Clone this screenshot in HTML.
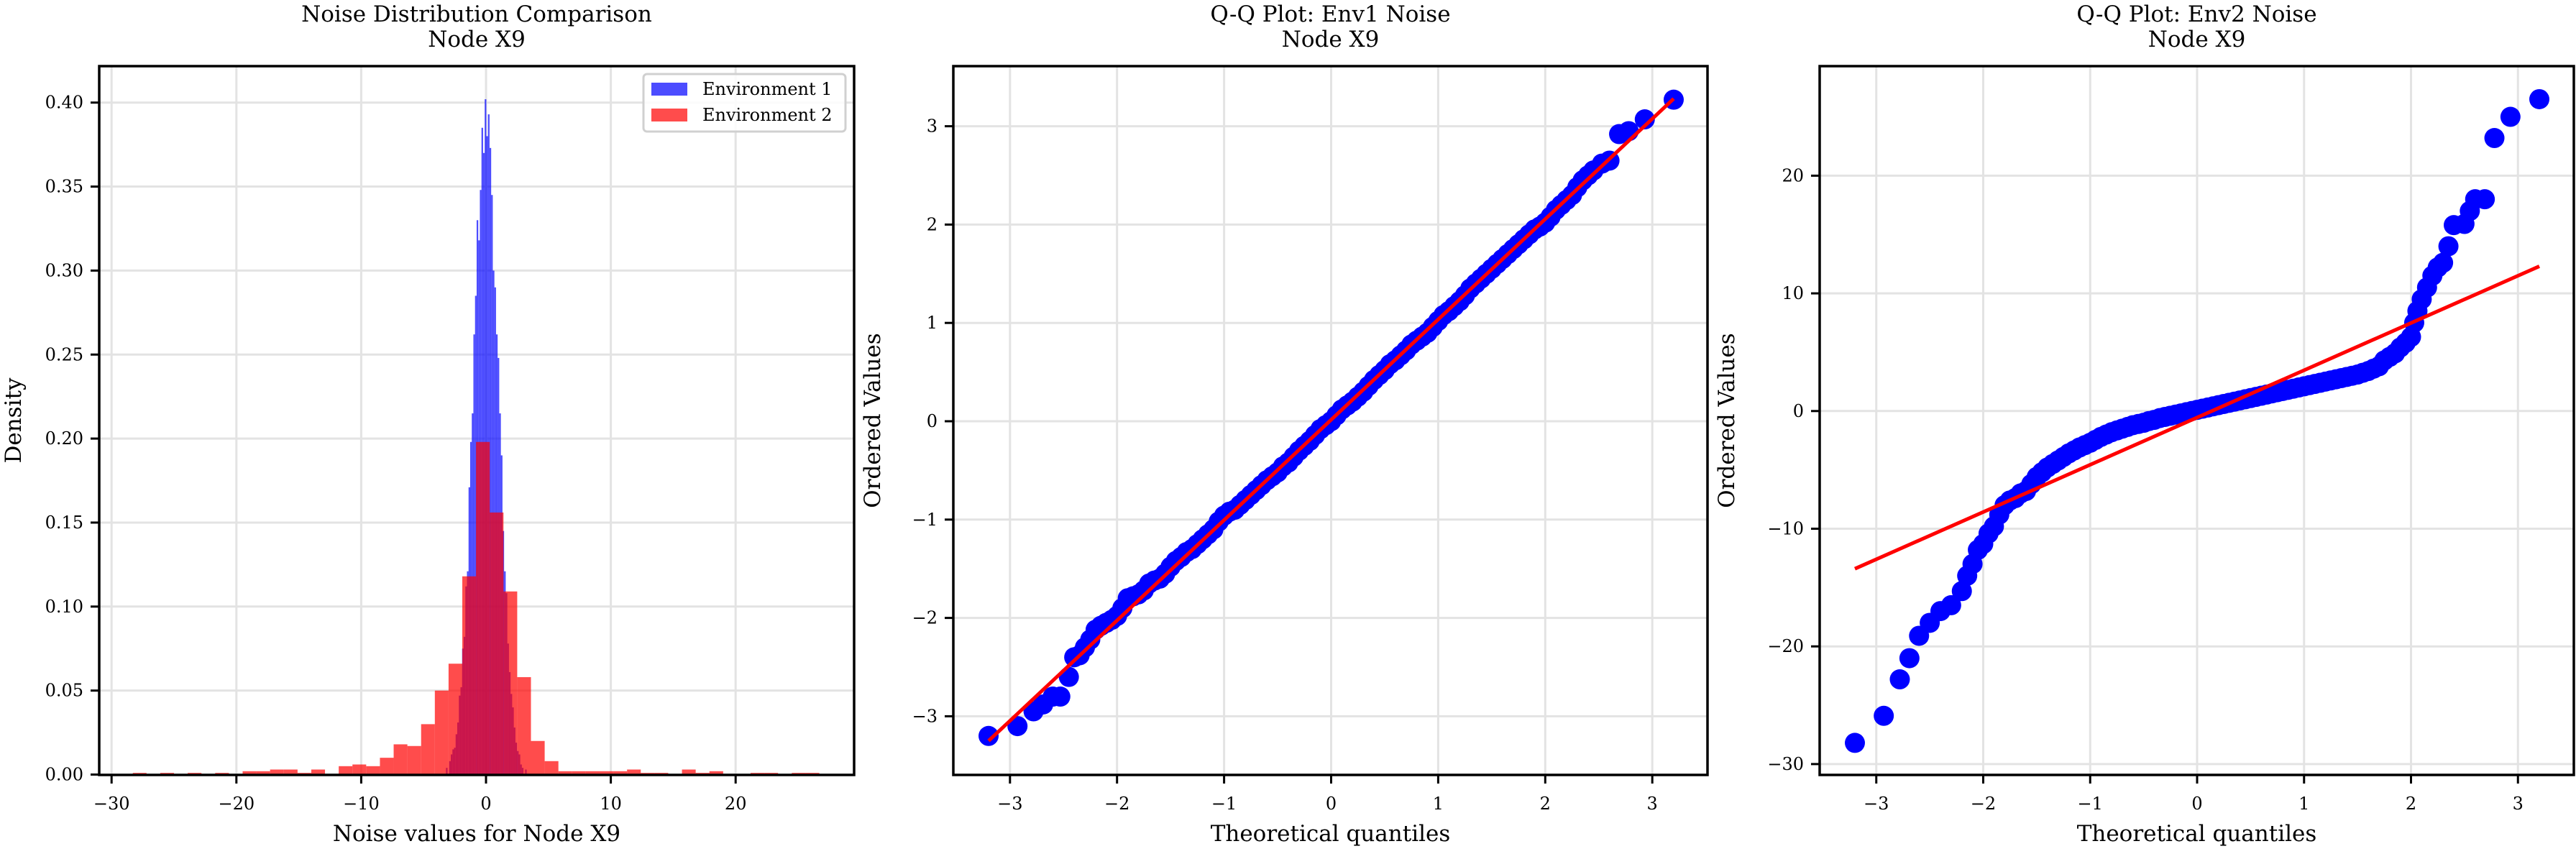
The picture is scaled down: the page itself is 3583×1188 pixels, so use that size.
<!DOCTYPE html>
<html><head><meta charset="utf-8"><style>
html,body{margin:0;padding:0;background:#fff;}
svg text{font-family:"DejaVu Serif","Liberation Serif",serif;fill:#000;}
</style></head><body>
<svg id="fig" width="3583" height="1183" viewBox="0 0 3583 1183" xmlns="http://www.w3.org/2000/svg"></svg>
<script>
// ---- Histogram data ----
const env1Start = -3.21, env1Width = 0.1294;
const env1Density = [0.004,0.000,0.008,0.012,0.015,0.016,0.024,0.031,0.047,0.052,0.075,0.082,0.112,0.121,0.171,0.198,0.215,0.262,0.285,0.330,0.318,0.348,0.385,0.370,0.402,0.380,0.393,0.373,0.345,0.300,0.290,0.262,0.248,0.215,0.190,0.145,0.121,0.108,0.078,0.061,0.048,0.040,0.028,0.019,0.014,0.012,0.006,0.004,0.000,0.003];
const env2Start = -28.3, env2Width = 1.1;
const env2Density = [0.001,0,0.001,0,0.001,0,0.001,0,0.002,0.002,0.003,0.003,0.001,0.003,0,0.005,0.006,0.005,0.010,0.018,0.017,0.030,0.050,0.066,0.118,0.198,0.156,0.109,0.058,0.020,0.008,0.002,0.002,0.002,0.002,0.002,0.003,0.001,0.001,0,0.003,0.001,0.002,0,0,0.001,0.001,0,0.001,0.001];
const histXTicks = [-30,-20,-10,0,10,20];
const histYTicks = [0,0.05,0.10,0.15,0.20,0.25,0.30,0.35,0.40];
const histYTickLabels = ["0.00","0.05","0.10","0.15","0.20","0.25","0.30","0.35","0.40"];
// ---- QQ Env1 ----
const qq1Theo = [-3.2,-2.93,-2.78,-2.69,-2.6,-2.53,-2.45,-2.4,-2.35,-2.3,-2.25,-2.2,-2.15,-2.1,-2.05,-2.0,-1.95,-1.9,-1.85,-1.8,-1.75,-1.7,-1.65,-1.6,-1.55,-1.5,-1.45,-1.4,-1.35,-1.3,-1.25,-1.2,-1.15,-1.1,-1.05,-1.0,-0.95,-0.9,-0.85,-0.8,-0.75,-0.7,-0.65,-0.6,-0.55,-0.5,-0.45,-0.4,-0.35,-0.3,-0.25,-0.2,-0.15,-0.1,-0.05,0,0.05,0.1,0.15,0.2,0.25,0.3,0.35,0.4,0.45,0.5,0.55,0.6,0.65,0.7,0.75,0.8,0.85,0.9,0.95,1.0,1.05,1.1,1.15,1.2,1.25,1.3,1.35,1.4,1.45,1.5,1.55,1.6,1.65,1.7,1.75,1.8,1.85,1.9,1.95,2.0,2.05,2.1,2.15,2.2,2.25,2.3,2.35,2.4,2.45,2.53,2.6,2.69,2.78,2.93,3.2];
const qq1Vals = [-3.2,-3.1,-2.95,-2.88,-2.8,-2.8,-2.6,-2.4,-2.38,-2.3,-2.22,-2.12,-2.08,-2.05,-2.02,-1.98,-1.9,-1.8,-1.78,-1.76,-1.72,-1.65,-1.62,-1.6,-1.55,-1.48,-1.42,-1.38,-1.33,-1.3,-1.25,-1.2,-1.15,-1.1,-1.02,-0.96,-0.92,-0.9,-0.85,-0.8,-0.75,-0.7,-0.65,-0.6,-0.56,-0.52,-0.46,-0.42,-0.36,-0.3,-0.25,-0.2,-0.14,-0.08,-0.04,0.0,0.06,0.12,0.16,0.2,0.25,0.3,0.36,0.42,0.47,0.52,0.58,0.62,0.67,0.72,0.78,0.82,0.86,0.9,0.96,1.02,1.08,1.12,1.17,1.22,1.28,1.35,1.4,1.45,1.5,1.55,1.6,1.65,1.7,1.75,1.8,1.85,1.9,1.95,1.98,2.02,2.08,2.15,2.2,2.25,2.3,2.38,2.45,2.5,2.55,2.62,2.65,2.92,2.95,3.07,3.27];
const qq1LineX = [-3.2,3.2];
const qq1LineY = [-3.25,3.28];
const qq1Ticks = [-3,-2,-1,0,1,2,3];
// ---- QQ Env2 ----
const qq2Theo = [-3.2,-2.93,-2.78,-2.69,-2.6,-2.5,-2.4,-2.3,-2.2,-2.15,-2.1,-2.05,-2.0,-1.95,-1.9,-1.85,-1.8,-1.75,-1.7,-1.65,-1.6,-1.55,-1.5,-1.45,-1.4,-1.35,-1.3,-1.25,-1.2,-1.15,-1.1,-1.05,-1.0,-0.95,-0.9,-0.85,-0.8,-0.75,-0.7,-0.65,-0.6,-0.55,-0.5,-0.45,-0.4,-0.35,-0.3,-0.25,-0.2,-0.15,-0.1,-0.05,0,0.05,0.1,0.15,0.2,0.25,0.3,0.35,0.4,0.45,0.5,0.55,0.6,0.65,0.7,0.75,0.8,0.85,0.9,0.95,1.0,1.05,1.1,1.15,1.2,1.25,1.3,1.35,1.4,1.45,1.5,1.55,1.6,1.65,1.7,1.75,1.8,1.85,1.9,1.95,2.0,2.03,2.06,2.1,2.15,2.2,2.25,2.3,2.35,2.4,2.5,2.55,2.6,2.69,2.78,2.93,3.2];
const qq2Vals = [-28.2,-25.9,-22.8,-21.0,-19.1,-18.0,-17.0,-16.5,-15.3,-14.0,-13.0,-11.8,-11.3,-10.4,-9.8,-8.8,-8.0,-7.6,-7.4,-7.0,-6.8,-6.2,-5.6,-5.2,-4.8,-4.5,-4.2,-3.9,-3.6,-3.35,-3.1,-2.9,-2.7,-2.45,-2.2,-2.0,-1.8,-1.65,-1.5,-1.35,-1.2,-1.1,-1.0,-0.85,-0.75,-0.6,-0.5,-0.4,-0.3,-0.2,-0.1,0.0,0.1,0.2,0.3,0.4,0.5,0.6,0.7,0.8,0.9,1.0,1.1,1.2,1.3,1.4,1.5,1.6,1.7,1.8,1.9,2.0,2.1,2.2,2.3,2.4,2.5,2.6,2.7,2.8,2.9,3.0,3.1,3.25,3.4,3.6,3.8,4.3,4.6,4.9,5.4,5.8,6.3,7.5,8.5,9.5,10.5,11.5,12.2,12.6,14.0,15.8,15.9,17.0,18.0,18.0,23.2,25.0,26.5];
const qq2LineX = [-3.2,3.2];
const qq2LineY = [-13.4,12.3];
const qq2XTicks = [-3,-2,-1,0,1,2,3];
const qq2YTicks = [-30,-20,-10,0,10,20];

const NS = "http://www.w3.org/2000/svg";
const svg = document.getElementById('fig');
function mk(tag, attrs, parent){ const e=document.createElementNS(NS,tag); for(const k in attrs) e.setAttribute(k,attrs[k]); (parent||svg).appendChild(e); return e; }
function fmt(v){ return (v<0?"\u2212":"")+Math.abs(v); }

function panel(name, box, xs, ys, xTicks, xLabels, yTicks, yLabels, title, xTitle, yTitle, yTitleX){
  const g = mk('g',{});
  
  
  const grid = mk('g',{},g);
  
  
  xTicks.forEach(t=>{ mk('line',{x1:xs(t),x2:xs(t),y1:box.T,y2:box.B,stroke:'#e3e3e3','stroke-width':3},grid); });
  yTicks.forEach(t=>{ mk('line',{x1:box.L,x2:box.R,y1:ys(t),y2:ys(t),stroke:'#e3e3e3','stroke-width':3},grid); });
  const plot = mk('g',{},g);
  const axes = mk('g',{},g);
  mk('rect',{x:box.L,y:box.T,width:box.R-box.L,height:box.B-box.T,fill:'none',stroke:'#000','stroke-width':3.5},axes);
  const xt = mk('g',{},axes);
  
  
  xTicks.forEach((t,i)=>{
    mk('line',{x1:xs(t),x2:xs(t),y1:box.B,y2:box.B+12,stroke:'#000','stroke-width':3},xt);
    const tx = mk('text',{x:xs(t),y:box.B+48,'text-anchor':'middle','font-size':24},xt);
    tx.textContent = xLabels[i];
  });
  const yt = mk('g',{},axes);
  
  
  yTicks.forEach((t,i)=>{
    mk('line',{x1:box.L-12,x2:box.L,y1:ys(t),y2:ys(t),stroke:'#000','stroke-width':3},yt);
    const tx = mk('text',{x:box.L-22,y:ys(t)+8,'text-anchor':'end','font-size':24},yt);
    tx.textContent = yLabels[i];
  });
  const cx=(box.L+box.R)/2;
  const t1 = mk('text',{x:cx,y:30,'text-anchor':'middle','font-size':31},g);
  t1.textContent = title;
  
  
  const t2 = mk('text',{x:cx,y:65,'text-anchor':'middle','font-size':31},g);
  t2.textContent = "Node X9";
  const xl = mk('text',{x:cx,y:1170,'text-anchor':'middle','font-size':31},g);
  xl.textContent = xTitle;
  
  
  const cy=(box.T+box.B)/2;
  const yl = mk('text',{x:yTitleX,y:cy,'text-anchor':'middle','font-size':31,transform:`rotate(-90 ${yTitleX} ${cy})`},g);
  yl.textContent = yTitle;
  
  
  return plot;
}

// Panel 1
const b1={L:138,R:1188,T:92,B:1078};
const x1=v=>676+17.36*v, y1=v=>1077.5-2337*v;
const p1 = panel('histogram-panel', b1, x1, y1, histXTicks, histXTicks.map(fmt), histYTicks, histYTickLabels, 'Noise Distribution Comparison', 'Noise values for Node X9', 'Density', 29);
const clip1 = mk('clipPath',{id:'c1'}); mk('rect',{x:b1.L,y:b1.T,width:b1.R-b1.L,height:b1.B-b1.T},clip1);
p1.setAttribute('clip-path','url(#c1)');
env1Density.forEach((d,i)=>{
  const a=env1Start+i*env1Width, b=a+env1Width;
  const r=mk('rect',{x:x1(a),y:y1(d),width:x1(b)-x1(a),height:y1(0)-y1(d),fill:'#0000ff','fill-opacity':0.7},p1);
  
  
});
env2Density.forEach((d,i)=>{
  const a=env2Start+i*env2Width, b=a+env2Width;
  const r=mk('rect',{x:x1(a),y:y1(d),width:x1(b)-x1(a),height:y1(0)-y1(d),fill:'#ff0000','fill-opacity':0.7},p1);
  
  
});
// legend
const lg = mk('g',{});


mk('rect',{x:895,y:103,width:281,height:80,rx:5,fill:'#fff','fill-opacity':0.85,stroke:'#d0d0d0','stroke-width':3},lg);
const le1=mk('g',{},lg);


mk('rect',{x:906,y:115,width:50,height:18,fill:'#0000ff','fill-opacity':0.7},le1);
mk('text',{x:977,y:132,'font-size':24},le1).textContent='Environment 1';
const le2=mk('g',{},lg);


mk('rect',{x:906,y:151,width:50,height:18,fill:'#ff0000','fill-opacity':0.7},le2);
mk('text',{x:977,y:168,'font-size':24},le2).textContent='Environment 2';

// Panel 2
const b2={L:1326,R:2375,T:92,B:1078};
const x2=v=>1851.5+148.9*v, y2=v=>586-136.8*v;
const p2 = panel('qq-env1-panel', b2, x2, y2, qq1Ticks, qq1Ticks.map(fmt), qq1Ticks, qq1Ticks.map(fmt), 'Q-Q Plot: Env1 Noise', 'Theoretical quantiles', 'Ordered Values', 1224);
qq1Theo.forEach((t,i)=>{
  const c=mk('circle',{cx:x2(t),cy:y2(qq1Vals[i]),r:14,fill:'#0000ff'},p2);
  
  
});
const l2=mk('line',{x1:x2(qq1LineX[0]),y1:y2(qq1LineY[0]),x2:x2(qq1LineX[1]),y2:y2(qq1LineY[1]),stroke:'#ff0000','stroke-width':5},p2);



// Panel 3
const b3={L:2531,R:3580,T:92,B:1078};
const x3=v=>3056+148.75*v, y3=v=>571.8-16.37*v;
const p3 = panel('qq-env2-panel', b3, x3, y3, qq2XTicks, qq2XTicks.map(fmt), qq2YTicks, qq2YTicks.map(fmt), 'Q-Q Plot: Env2 Noise', 'Theoretical quantiles', 'Ordered Values', 2412);
qq2Theo.forEach((t,i)=>{
  const c=mk('circle',{cx:x3(t),cy:y3(qq2Vals[i]),r:14,fill:'#0000ff'},p3);
  
  
});
const l3=mk('line',{x1:x3(qq2LineX[0]),y1:y3(qq2LineY[0]),x2:x3(qq2LineX[1]),y2:y3(qq2LineY[1]),stroke:'#ff0000','stroke-width':5},p3);


</script>
</body></html>
